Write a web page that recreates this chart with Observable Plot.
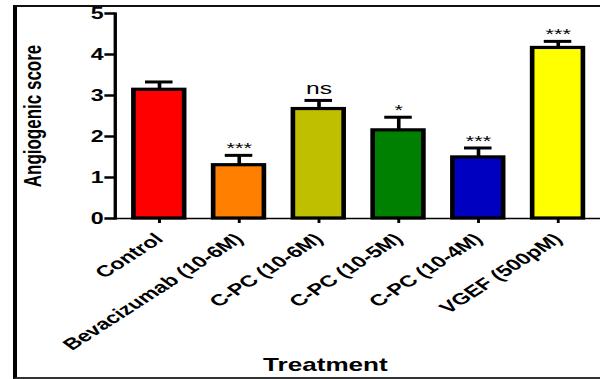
<!DOCTYPE html>
<html><head><meta charset="utf-8">
<script src="https://cdn.jsdelivr.net/npm/d3@7"></script>
<script src="https://cdn.jsdelivr.net/npm/@observablehq/plot@0.6"></script>
<style>
html,body{margin:0;padding:0;background:#fff;overflow:hidden;width:600px;height:379px}
#frame{position:absolute;left:13px;top:5px;width:700px;height:374px;box-sizing:border-box;border-left:4px solid #000;border-top:2.5px solid #111;border-bottom:2px solid #333;}
#chart{position:absolute;left:0;top:0}
</style></head><body>
<div id="frame"></div><div id="chart"></div>
<script>
const treatments = ["Control", "Bevacizumab (10-6M)", "C-PC (10-6M)", "C-PC (10-5M)", "C-PC (10-4M)", "VGEF (500pM)"];
const means = [3.14, 1.30, 2.67, 2.15, 1.49, 4.16];
const sems = [0.19, 0.24, 0.21, 0.32, 0.23, 0.16];
const significance = ["", "***", "ns", "*", "***", "***"];
const colors = ["#FF0000", "#FF8000", "#BFBF00", "#008000", "#0000C0", "#FFFF00"];
const yTicks = [0, 1, 2, 3, 4, 5];

const K = 1.45, W = 600 / K, H = 379;
const data = treatments.map((t, i) => ({treatment: t, mean: means[i], upper: means[i] + sems[i], sig: significance[i]}));
const font = "'Liberation Sans', Arial, Helvetica, sans-serif";

const chart = Plot.plot({
  width: W, height: H,
  marginLeft: 79, marginRight: 0, marginTop: 13, marginBottom: 161,
  style: {fontFamily: font, background: "transparent", overflow: "visible", color: "#000"},
  x: {domain: treatments, paddingInner: 0.37, paddingOuter: 0.18, label: null},
  y: {domain: [0, 5], label: null},
  color: {domain: treatments, range: colors},
  marks: [
    Plot.ruleY([0], {stroke: "#000", strokeWidth: 1.5}),
    Plot.ruleX(data, {x: "treatment", y1: "mean", y2: "upper", stroke: "#000", strokeWidth: 2.5}),
    Plot.tickY(data, {x: "treatment", y: "upper", stroke: "#000", strokeWidth: 3, insetLeft: 8, insetRight: 8}),
    Plot.barY(data, {x: "treatment", y: "mean", fill: "treatment", stroke: "#000", strokeWidth: 3.2}),
    Plot.text(data.filter(d => d.sig && d.sig !== "ns"), {x: "treatment", y: "upper", text: "sig", lineAnchor: "bottom", dy: -2, fontSize: 15, fill: "#000"}),
    Plot.text(data.filter(d => d.sig === "ns"), {x: "treatment", y: "upper", text: "sig", lineAnchor: "bottom", dy: -6, fontSize: 17, fill: "#000"}),
    Plot.axisY({ticks: yTicks, tickSize: 7, tickPadding: 1, strokeWidth: 2.5, fontSize: 16, fontWeight: "bold", label: null, tickFormat: d => String(d)}),
    Plot.axisX({tickSize: 5, strokeWidth: 2, tickRotate: -43, tickPadding: 13, fontSize: 16, fontWeight: "bold", label: null}),
    Plot.frame({anchor: "left", stroke: "#000", strokeWidth: 2.3}),
    Plot.text(["Angiogenic score"], {frameAnchor: "left", dx: -57, rotate: -90, lineAnchor: "middle", textAnchor: "middle", fontSize: 17, fontWeight: "bold", fill: "#000"}),
    Plot.text(["Treatment"], {frameAnchor: "bottom", dx: -22.5, dy: 147, lineAnchor: "middle", fontSize: 18, fontWeight: "bold", fill: "#000"})
  ]
});
chart.setAttribute("width", 600);
chart.setAttribute("height", H);
chart.setAttribute("viewBox", `0 0 ${W} ${H}`);
chart.setAttribute("preserveAspectRatio", "none");
chart.style.width = "600px";
chart.style.height = H + "px";
chart.style.maxWidth = "none";
document.getElementById("chart").appendChild(chart);
</script>
</body></html>
